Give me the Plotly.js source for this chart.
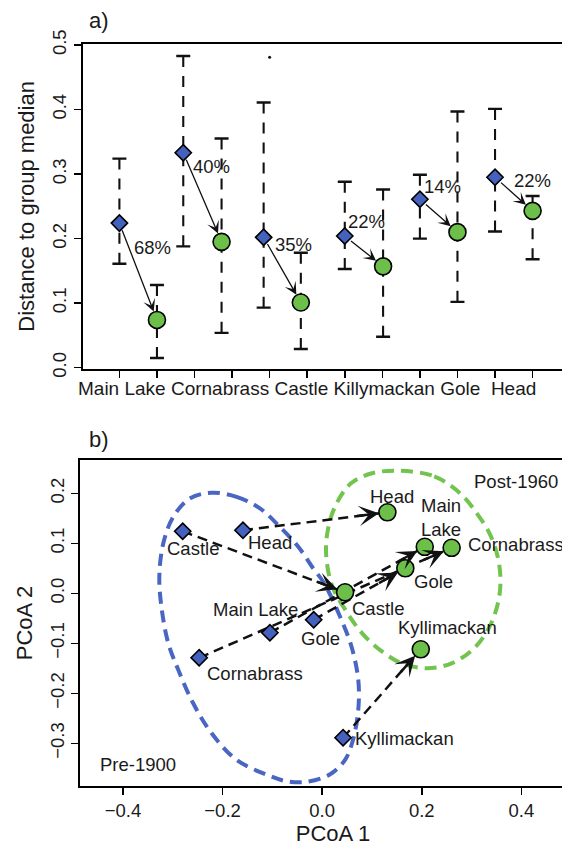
<!DOCTYPE html>
<html>
<head>
<meta charset="utf-8">
<script src="https://cdn.plot.ly/plotly-3.0.1.min.js"></script>
<style>
html,body{margin:0;padding:0;overflow:hidden;background:#ffffff;}
#chart{width:600px;height:846px;}
</style>
</head>
<body>
<div id="chart"></div>
<script>
// ---------------- Panel a data ----------------
const sitesA   = ['Main Lake', 'Cornabrass', 'Castle', 'Killymackan', 'Gole', 'Head'];
const prePos   = [1, 2.7, 4.84, 7, 9, 11];
const postPos  = [2, 3.72, 5.83, 8.02, 10, 12];
const preMed   = [0.224, 0.333, 0.202, 0.204, 0.261, 0.295];
const preLow   = [0.161, 0.188, 0.093, 0.153, 0.200, 0.211];
const preHigh  = [0.324, 0.483, 0.411, 0.288, 0.299, 0.401];
const postMed  = [0.074, 0.195, 0.101, 0.157, 0.210, 0.243];
const postLow  = [0.015, 0.054, 0.029, 0.048, 0.102, 0.168];
const postHigh = [0.128, 0.355, 0.178, 0.276, 0.397, 0.266];
const outlierPos = [5];
const outlierVal = [0.481];
const pctText  = ['68%', '40%', '35%', '22%', '14%', '22%'];
const xTicksA  = [1, 2, 3, 4, 5, 6, 7, 8, 9, 10, 11, 12];
const yTicksA  = [0, 0.1, 0.2, 0.3, 0.4, 0.5];

// ---------------- Panel b data ----------------
const sitesB = ['Main Lake', 'Cornabrass', 'Castle', 'Kyllimackan', 'Gole', 'Head'];
const preX   = [-0.105, -0.247, -0.280, 0.042, -0.017, -0.159];
const preY   = [-0.079, -0.129, 0.124, -0.289, -0.053, 0.126];
const postX  = [0.206, 0.260, 0.046, 0.198, 0.167, 0.131];
const postY  = [0.093, 0.091, 0.002, -0.112, 0.050, 0.162];
// traced outlines of the group ellipses
const preEllX = [-0.222, -0.172, -0.125, -0.085, -0.048, -0.018, 0.004, 0.036, 0.059, 0.0725, 0.0725, 0.062, 0.046, 0.016, -0.031, -0.071, -0.111, -0.172, -0.222, -0.259, -0.289, -0.309, -0.322, -0.327, -0.319, -0.299, -0.265];
const preEllY = [0.201, 0.193, 0.170, 0.133, 0.093, 0.050, 0.020, -0.047, -0.107, -0.173, -0.233, -0.293, -0.333, -0.362, -0.377, -0.376, -0.363, -0.333, -0.280, -0.220, -0.153, -0.100, -0.033, 0.033, 0.100, 0.153, 0.190];
const postEllX = [0.155, 0.225, 0.277, 0.312, 0.337, 0.352, 0.358, 0.354, 0.337, 0.305, 0.260, 0.210, 0.160, 0.125, 0.083, 0.049, 0.020, 0.008, 0.012, 0.028, 0.058, 0.100];
const postEllY = [0.245, 0.234, 0.200, 0.158, 0.118, 0.075, 0.030, -0.015, -0.065, -0.110, -0.140, -0.150, -0.140, -0.120, -0.083, -0.037, 0.015, 0.077, 0.130, 0.178, 0.220, 0.240];
const xTicksB = [-0.4, -0.2, 0.0, 0.2, 0.4];
const yTicksB = [-0.3, -0.2, -0.1, 0.0, 0.1, 0.2];

// ---------------- styling / geometry ----------------
const BLUE = '#4361bd', GREEN = '#6cc04a';
const BLUE_ELL = '#4a66c3', GREEN_ELL = '#72c44f';
const FONT = 'Liberation Sans, Arial, Helvetica, sans-serif';
const TXT = '#1a1a1a';
const W = 600, H = 846;
const M = {l: 60, r: 0, t: 10, b: 10};
const PW = W - M.l - M.r, PH = H - M.t - M.b;
const fx = px => (px - M.l) / PW;
const fy = py => 1 - (py - M.t) / PH;

const rangeXA = [0.0256, 12.98], rangeYA = [-0.0025, 0.5023];
const rangeXB = [-0.4863, 0.53], rangeYB = [-0.3854, 0.2666];
const boxA = {l: 82.8, r: 569.4, t: 43.5, b: 369.3};
const boxB = {l: 80, r: 586.1, t: 460, b: 786};

// ---------------- traces ----------------
const traces = [];
// whiskers (drawn from each end toward the median)
const wx = [], wy = [];
function addWhisk(p, lo, med, hi) { wx.push(p, p, null, p, p, null); wy.push(hi, med, null, lo, med, null); }
sitesA.forEach((s, i) => { addWhisk(prePos[i], preLow[i], preMed[i], preHigh[i]); addWhisk(postPos[i], postLow[i], postMed[i], postHigh[i]); });
traces.push({type: 'scatter', mode: 'lines', x: wx, y: wy, xaxis: 'x', yaxis: 'y', connectgaps: false,
  line: {color: '#111', width: 2.1, dash: '11px,9px'}, hoverinfo: 'skip', showlegend: false});
// caps
traces.push({type: 'scatter', mode: 'markers', xaxis: 'x', yaxis: 'y', showlegend: false,
  x: prePos.concat(prePos, postPos, postPos), y: preLow.concat(preHigh, postLow, postHigh),
  marker: {symbol: 'line-ew', size: 10, line: {color: '#111', width: 2.4}}});
// outlier
traces.push({type: 'scatter', mode: 'markers', xaxis: 'x', yaxis: 'y', showlegend: false,
  x: outlierPos, y: outlierVal, marker: {symbol: 'circle', size: 3, color: '#111'}});
// pre / post medians
traces.push({type: 'scatter', mode: 'markers', xaxis: 'x', yaxis: 'y', showlegend: false, name: 'Pre-1900',
  x: prePos, y: preMed, text: sitesA, marker: {symbol: 'diamond', size: 12.5, color: BLUE, line: {color: '#000', width: 1.6}}});
traces.push({type: 'scatter', mode: 'markers', xaxis: 'x', yaxis: 'y', showlegend: false, name: 'Post-1960',
  x: postPos, y: postMed, text: sitesA, marker: {symbol: 'circle', size: 17, color: GREEN, line: {color: '#000', width: 1.6}}});

// panel b ellipses
traces.push({type: 'scatter', mode: 'lines', xaxis: 'x2', yaxis: 'y2', showlegend: false,
  x: preEllX.concat([preEllX[0]]), y: preEllY.concat([preEllY[0]]),
  line: {color: BLUE_ELL, width: 4, dash: '12px,7px', shape: 'spline', smoothing: 1}});
traces.push({type: 'scatter', mode: 'lines', xaxis: 'x2', yaxis: 'y2', showlegend: false,
  x: postEllX.concat([postEllX[0]]), y: postEllY.concat([postEllY[0]]),
  line: {color: GREEN_ELL, width: 4, dash: '12px,7px', shape: 'spline', smoothing: 1}});
// dashed trajectories
const ax2 = [], ay2 = [];
sitesB.forEach((s, i) => { ax2.push(preX[i], postX[i], null); ay2.push(preY[i], postY[i], null); });
traces.push({type: 'scatter', mode: 'lines', xaxis: 'x2', yaxis: 'y2', showlegend: false, connectgaps: false,
  x: ax2, y: ay2, line: {color: '#111', width: 2.5, dash: '10px,6px'}});
traces.push({type: 'scatter', mode: 'markers', xaxis: 'x2', yaxis: 'y2', showlegend: false,
  x: preX, y: preY, text: sitesB, marker: {symbol: 'diamond', size: 12.5, color: BLUE, line: {color: '#000', width: 1.6}}});
traces.push({type: 'scatter', mode: 'markers', xaxis: 'x2', yaxis: 'y2', showlegend: false,
  x: postX, y: postY, text: sitesB, marker: {symbol: 'circle', size: 17, color: GREEN, line: {color: '#000', width: 1.6}}});

// ---------------- annotations ----------------
const ann = [];
const tf = (sz) => ({family: FONT, size: sz, color: TXT});
// panel a arrows
sitesA.forEach((s, i) => {
  ann.push({xref: 'x', yref: 'y', axref: 'x', ayref: 'y', x: postPos[i], y: postMed[i], ax: prePos[i], ay: preMed[i],
    text: '', showarrow: true, arrowhead: 3, arrowsize: 1.6, arrowwidth: 1.3, arrowcolor: '#111', standoff: 9, startstandoff: 6});
});
// percentage labels
const pctPosX = [1.87, 3.447, 5.638, 7.565, 9.59, 11.985];
const pctPosY = [0.186, 0.3114, 0.191, 0.226, 0.281, 0.2908];
pctText.forEach((t, i) => ann.push({xref: 'x', yref: 'y', x: pctPosX[i], y: pctPosY[i], text: t, showarrow: false, font: tf(18.5), xanchor: 'center', yanchor: 'middle'}));
// category labels (one line, as in the original)
ann.push({xref: 'x', yref: 'paper', x: 6.005, y: fy(388), xanchor: 'center', yanchor: 'middle', showarrow: false,
  text: sitesA.slice(0, 5).join(' ') + '\u00a0\u00a0' + sitesA[5], font: tf(19)});
// panel letters
ann.push({xref: 'paper', yref: 'paper', x: fx(98.5), y: fy(20.5), text: 'a)', showarrow: false, font: tf(22), xanchor: 'center', yanchor: 'middle'});
ann.push({xref: 'paper', yref: 'paper', x: fx(98.5), y: fy(439), text: 'b)', showarrow: false, font: tf(22), xanchor: 'center', yanchor: 'middle'});

// panel b arrowheads
const pxPerXB = (boxB.r - boxB.l) / (rangeXB[1] - rangeXB[0]);
const pxPerYB = (boxB.b - boxB.t) / (rangeYB[1] - rangeYB[0]);
sitesB.forEach((s, i) => {
  const dxp = (postX[i] - preX[i]) * pxPerXB, dyp = (postY[i] - preY[i]) * pxPerYB;
  const len = Math.sqrt(dxp * dxp + dyp * dyp);
  const f = 32 / len;
  ann.push({xref: 'x2', yref: 'y2', axref: 'x2', ayref: 'y2', x: postX[i], y: postY[i],
    ax: postX[i] - (postX[i] - preX[i]) * f, ay: postY[i] - (postY[i] - preY[i]) * f,
    text: '', showarrow: true, arrowhead: 3, arrowsize: 1.35, arrowwidth: 2.5, arrowcolor: '#111', standoff: 8.5});
});
// panel b point labels
const preLabX = [-0.133, -0.1355, -0.260, 0.166, -0.003, -0.105];
const preLabY = [-0.032, -0.161, 0.089, -0.290, -0.090, 0.101];
sitesB.forEach((s, i) => ann.push({xref: 'x2', yref: 'y2', x: preLabX[i], y: preLabY[i], text: s, showarrow: false, font: tf(18.5), xanchor: 'center', yanchor: 'middle'}));
const postLabX = [0.238, 0.288, 0.112, 0.2526, 0.223, 0.141];
const postLabY = [0.151, 0.0986, -0.030, -0.068, 0.023, 0.193];
const postLabAnchor = ['center', 'left', 'center', 'center', 'center', 'center'];
sitesB.forEach((s, i) => ann.push({xref: 'x2', yref: 'y2', x: postLabX[i], y: postLabY[i],
  text: s === 'Main Lake' ? 'Main<br>Lake' : s, showarrow: false, font: tf(18.5), xanchor: postLabAnchor[i], yanchor: 'middle'}));
ann.push({xref: 'x2', yref: 'y2', x: -0.3705, y: -0.3414, text: 'Pre-1900', showarrow: false, font: tf(18.5), xanchor: 'center', yanchor: 'middle'});
ann.push({xref: 'x2', yref: 'y2', x: 0.3888, y: 0.2232, text: 'Post-1960', showarrow: false, font: tf(18.5), xanchor: 'center', yanchor: 'middle'});

// ---------------- layout ----------------
const axCommon = {showline: true, mirror: true, linecolor: '#000', linewidth: 2, ticks: 'outside', ticklen: 7,
  tickwidth: 1.5, tickcolor: '#000', showgrid: false, zeroline: false, automargin: false,
  tickfont: {family: FONT, size: 18.5, color: TXT}};
const layout = {
  width: W, height: H, margin: M, paper_bgcolor: '#fff', plot_bgcolor: '#fff', showlegend: false,
  font: {family: FONT, color: TXT},
  xaxis: Object.assign({}, axCommon, {domain: [fx(boxA.l), fx(boxA.r)], range: rangeXA, anchor: 'y',
    tickvals: xTicksA, showticklabels: false}),
  yaxis: Object.assign({}, axCommon, {domain: [fy(boxA.b), fy(boxA.t)], range: rangeYA, anchor: 'x',
    tickvals: yTicksA, tickformat: '.1f', tickangle: -90,
    title: {text: 'Distance to group median', font: {family: FONT, size: 22, color: TXT}, standoff: 9}}),
  xaxis2: Object.assign({}, axCommon, {domain: [fx(boxB.l), fx(boxB.r)], range: rangeXB, anchor: 'y2',
    tickvals: xTicksB, tickformat: '.1f',
    title: {text: 'PCoA 1', font: {family: FONT, size: 22, color: TXT}, standoff: 12}}),
  yaxis2: Object.assign({}, axCommon, {domain: [fy(boxB.b), fy(boxB.t)], range: rangeYB, anchor: 'x2',
    tickvals: yTicksB, tickformat: '.1f', tickangle: -90,
    title: {text: 'PCoA 2', font: {family: FONT, size: 22, color: TXT}, standoff: 8}}),
  annotations: ann
};
Plotly.newPlot('chart', traces, layout, {staticPlot: true, displayModeBar: false});
</script>
</body>
</html>
